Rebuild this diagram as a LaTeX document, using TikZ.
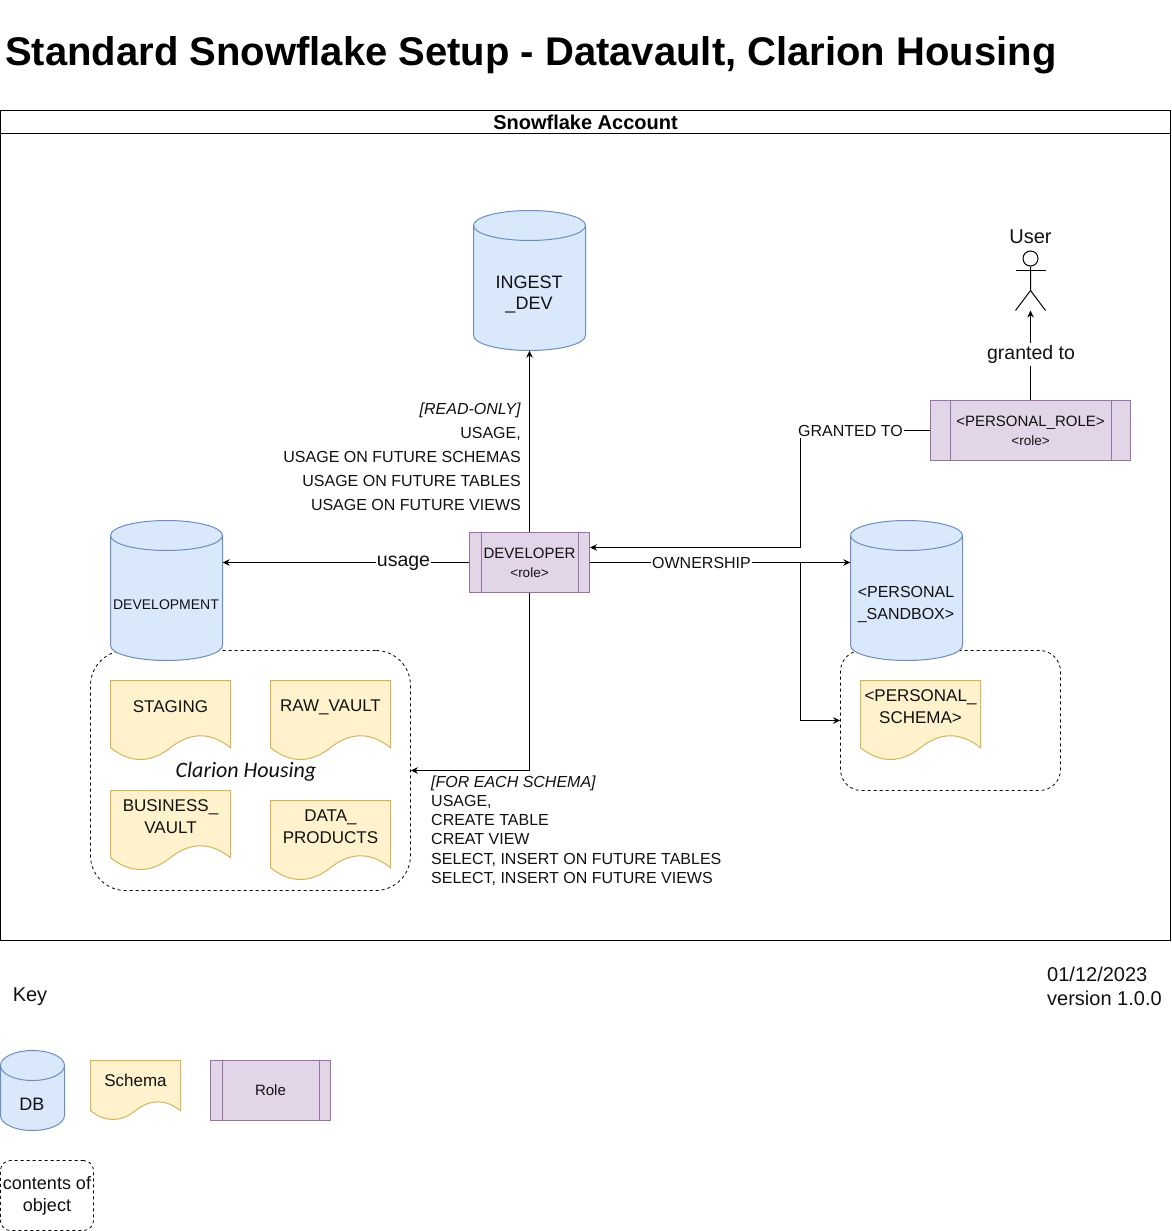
\documentclass[tikz,border=0pt]{standalone}
\usepackage{fontspec}
\setmainfont{Liberation Sans}
\newfontfamily\handfont{Carlito}
\usetikzlibrary{shapes,arrows,arrows.meta}

\definecolor{dbfill}{HTML}{DAE8FC}
\definecolor{dbline}{HTML}{6C8EBF}
\definecolor{schemafill}{HTML}{FFF2CC}
\definecolor{schemaline}{HTML}{D6B656}
\definecolor{rolefill}{HTML}{E1D5E7}
\definecolor{roleline}{HTML}{9673A6}
\definecolor{txt}{HTML}{111111}

\newcommand\fs[2]{\fontsize{#1}{#2}\selectfont}

\tikzset{
  every node/.style={text=txt,align=center,inner sep=0pt},
  flow/.style={->,>={Stealth[length=7pt,width=6.5pt]},line width=1pt},
  ctrbox/.style={draw,dashed,dash pattern=on 3pt off 3pt,line width=0.8pt,fill=white},
  rolebox/.style={draw=roleline,fill=rolefill,line width=1pt},
  tag/.style={fill=white,inner xsep=1pt,inner ysep=2pt},
}

% cylinder: name, left, top, width, height, text size, text
\newcommand\dbcyl[7]{
  \fill[dbfill,draw=dbline,line width=1pt] (#2,#3+15) arc[start angle=180,end angle=0,x radius=#4*0.5pt,y radius=15pt]
    -- (#2+#4,#3+#5-15) arc[start angle=0,end angle=-180,x radius=#4*0.5pt,y radius=15pt] -- cycle;
  \draw[dbline,line width=1pt] (#2,#3+15) arc[start angle=180,end angle=360,x radius=#4*0.5pt,y radius=15pt];
  \node[minimum width=#4pt,minimum height=#5pt] (#1) at (#2+#4*0.5,#3+#5*0.5) {};
  \node[font=\fs{#6}{21.5}] (#1text) at (#2+#4*0.5-0.5,#3+#5*0.5+14) {#7};
}

% schema page: name, left, top, width, height, text size, text
\newcommand\schemadoc[7]{
  \fill[schemafill,draw=schemaline,line width=1pt] (#2,#3) -- (#2+#4,#3) -- (#2+#4,#3+0.85*#5)
    .. controls (#2+#4*5/6,#3+0.65*#5) and (#2+#4*2/3,#3+0.65*#5) .. (#2+#4*0.5,#3+0.85*#5)
    .. controls (#2+#4/3,#3+1.05*#5) and (#2+#4/6,#3+1.05*#5) .. (#2,#3+0.85*#5) -- cycle;
  \node[font=\fs{#6}{21.5}] (#1) at (#2+#4*0.5,#3+#5/3) {#7};
}

% role box: name, centre x, centre y, width, bar width, text
\newcommand\rolenode[6]{
  \node[rolebox,minimum width=#4pt,minimum height=60pt,font=\fs{15}{19}] (#1) at (#2,#3) {#6};
  \draw[roleline,line width=1pt] ([xshift=#5pt]#1.north west) -- ([xshift=#5pt]#1.south west);
  \draw[roleline,line width=1pt] ([xshift=-#5pt]#1.north east) -- ([xshift=-#5pt]#1.south east);
}

\begin{document}
\begin{tikzpicture}[x=1pt,y=-1pt]
\useasboundingbox (0,0) rectangle (1172,1231);
\fill[white] (0,0) rectangle (1172,1231);

% title and account frame
\node[anchor=west,text=black,font=\fs{40}{48}\bfseries] (title) at (5,55) {Standard Snowflake Setup - Datavault, Clarion Housing};
\draw[line width=1pt] (0.5,110.5) rectangle (1170.5,940.5);
\draw[line width=1pt] (0.5,133.5) -- (1170.5,133.5);
\node[text=black,font=\fs{20}{24}\bfseries] (account) at (585.5,122) {Snowflake Account};

% dashed contents
\node[ctrbox,rounded corners=35pt,minimum width=320pt,minimum height=240pt] (devctr) at (250.5,770.5) {};
\node[ctrbox,rounded corners=21pt,minimum width=220pt,minimum height=140pt] (sandctr) at (950.5,720.5) {};

% databases
\dbcyl{ingest}{473.5}{210.5}{112}{140}{18}{INGEST\\\_DEV}
\dbcyl{devdb}{110.5}{520.5}{112}{140}{14}{DEVELOPMENT}
\dbcyl{sandbox}{850.5}{520.5}{112}{140}{16}{<PERSONAL\\\_SANDBOX>}

% schemas
\schemadoc{staging}{110.5}{680.5}{120}{79}{17}{STAGING}
\schemadoc{rawvault}{270.5}{680.5}{120}{79}{17}{RAW\_VAULT}
\schemadoc{busvault}{110.5}{790.5}{120}{79}{17}{BUSINESS\_\\VAULT}
\schemadoc{dataprod}{270.5}{800.5}{120}{79}{17}{DATA\_\\PRODUCTS}
\schemadoc{pschema}{860.5}{680.5}{120}{79}{17}{<PERSONAL\_\\SCHEMA>}
\node[font=\handfont\itshape\fs{22}{26}] (clarion) at (246,772) {Clarion Housing};

% roles
\rolenode{dev}{529.5}{562.5}{120}{12}{DEVELOPER\\\fs{13.5}{19}<role>}
\rolenode{prole}{1030.5}{430.5}{200}{20}{<PERSONAL\_ROLE>\\\fs{13.5}{19}<role>}

% user figure
\node[draw,circle,line width=1pt,minimum size=15pt] (userhead) at (1030.5,258.5) {};
\coordinate (userhip) at (1030.5,290.5);
\coordinate (userfoot) at (1030.5,310.5);
\draw[line width=1pt] (userhead.south) -- (userhip) -- (1015.5,310.5);
\draw[line width=1pt] (userhip) -- (1045.5,310.5);
\draw[line width=1pt] (1015.5,270.5) -- (1045.5,270.5);
\node[font=\fs{20}{24}] (usertxt) at (1030.5,237) {User};

% connectors
\coordinate (ownbend) at (800.5,562.5);
\coordinate (grantbend) at (800.5,430.5);
\draw[flow] (dev.north) -- (ingest.south);
\draw[flow] (dev.west) -- (dev.west -| devdb.east);
\draw[flow] (dev.east) -- (dev.east -| sandbox.west);
\draw[flow] (ownbend) |- (sandctr.west);
\draw[flow] (dev.south) |- (devctr.east);
\draw[flow] (prole.west) -- (grantbend) |- ([yshift=15pt]dev.east);
\draw[flow] (prole.north) -- (userfoot);

% connector labels
\node[tag,font=\fs{19.5}{24}] (usagetxt) at (403.5,563) {usage};
\node[tag,font=\fs{16}{20}] (owntxt) at (701.5,563) {OWNERSHIP};
\node[tag,font=\fs{16}{20}] (granttxt) at (850.5,430.5) {GRANTED TO};
\node[tag,font=\fs{19.5}{24}] (grantedtxt) at (1031,354.5) {granted to};

% grants text
\node[anchor=east,align=right,font=\fs{16}{24}] (readtxt) at (521,456.5) {\textit{[READ-ONLY]}\\USAGE,\\USAGE ON FUTURE SCHEMAS\\USAGE ON FUTURE TABLES\\USAGE ON FUTURE VIEWS};
\node[anchor=west,align=left,font=\fs{16}{19.2}] (eachtxt) at (431,830.5) {\textit{[FOR EACH SCHEMA]}\\USAGE,\\CREATE TABLE\\CREAT VIEW\\SELECT, INSERT ON FUTURE TABLES\\SELECT, INSERT ON FUTURE VIEWS};

% key and version
\node[font=\fs{20}{24}] (keytxt) at (30,996.5) {Key};
\node[anchor=west,align=left,font=\fs{20}{24}] (version) at (1047,986.5) {01/12/2023\\version 1.0.0};
\dbcyl{keydb}{0.5}{1050.5}{64}{80}{18}{DB}
\schemadoc{keyschema}{90.5}{1060.5}{90}{59}{17}{Schema}
\rolenode{keyrole}{270.5}{1090.5}{120}{12}{Role}
\node[ctrbox,rounded corners=10pt,minimum width=93pt,minimum height=70pt,font=\fs{18}{22}] (keyctr) at (47,1195.5) {contents of\\object};
\end{tikzpicture}
\end{document}
